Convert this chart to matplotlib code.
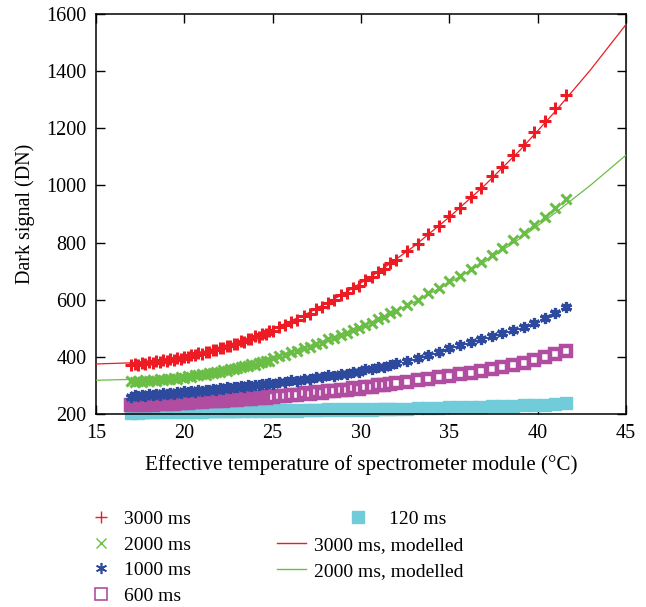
# coding:utf-8
from matplotlib import pyplot as plt
from matplotlib.lines import Line2D
import matplotlib

# 字体
matplotlib.rc("font", family="Liberation Serif", size=14.5)

# 数据
temp = [17.0, 17.2, 17.4, 17.6, 17.8, 18.0, 18.2, 18.4, 18.6, 18.8,
        19.0, 19.2, 19.4, 19.6, 19.8, 20.0, 20.2, 20.4, 20.6, 20.8,
        21.0, 21.2, 21.4, 21.6, 21.8, 22.0, 22.2, 22.4, 22.6, 22.8,
        23.0, 23.2, 23.4, 23.6, 23.8, 24.0, 24.2, 24.4, 24.6, 24.8,
        25.0, 25.35, 25.7, 26.05, 26.4, 26.75, 27.1, 27.45, 27.8, 28.15,
        28.5, 28.85, 29.2, 29.55, 29.9, 30.25, 30.6, 30.95, 31.3, 31.65,
        32.0, 32.6, 33.2, 33.8, 34.4, 35.0, 35.6, 36.2, 36.8, 37.4,
        38.0, 38.6, 39.2, 39.8, 40.4, 41.0, 41.6]
dn_3000 = [371, 376, 373, 379, 376, 382, 379, 385, 383, 389,
           386, 392, 390, 396, 394, 401, 399, 406, 405, 412,
           410, 418, 416, 424, 423, 431, 430, 438, 437, 446,
           445, 454, 453, 463, 462, 472, 471, 481, 481, 491,
           492, 503, 511, 523, 530, 544, 551, 566, 574, 589,
           598, 615, 623, 641, 649, 668, 678, 697, 707, 727,
           738, 770, 795, 829, 858, 893, 922, 960, 991, 1033,
           1066, 1108, 1143, 1188, 1226, 1272, 1318]
dn_2000 = [314, 311, 316, 313, 318, 315, 320, 317, 322, 319,
           324, 322, 327, 324, 330, 327, 333, 331, 336, 335,
           340, 338, 344, 343, 348, 346, 353, 351, 357, 356,
           362, 363, 367, 368, 374, 373, 380, 381, 386, 387,
           395, 403, 408, 417, 421, 431, 435, 445, 450, 461,
           466, 478, 483, 495, 500, 513, 519, 532, 539, 552,
           562, 583, 600, 622, 641, 664, 684, 708, 731, 756,
           780, 808, 833, 862, 889, 920, 954]
dn_1000 = [261, 265, 263, 267, 264, 269, 266, 271, 267, 272,
           269, 274, 271, 276, 273, 279, 276, 281, 278, 283,
           280, 285, 283, 288, 285, 290, 287, 293, 290, 295,
           293, 298, 295, 301, 298, 303, 301, 306, 304, 309,
           306, 313, 311, 318, 317, 323, 322, 329, 328, 335,
           334, 341, 341, 348, 348, 356, 356, 364, 364, 372,
           378, 387, 397, 407, 418, 432, 442, 452, 462, 472,
           482, 493, 505, 518, 535, 552, 573]
dn_600 = [230, 234, 231, 235, 232, 236, 233, 237, 234, 238,
          235, 240, 236, 241, 238, 243, 239, 244, 241, 245,
          242, 247, 244, 248, 245, 250, 247, 252, 248, 253,
          250, 255, 252, 257, 254, 259, 255, 260, 257, 262,
          259, 264, 263, 268, 267, 272, 271, 276, 275, 280,
          280, 285, 285, 290, 289, 295, 295, 300, 300, 306,
          308, 313, 318, 323, 328, 333, 339, 345, 351, 358,
          365, 372, 380, 389, 399, 410, 422]
dn_120 = [205, 208, 205, 208, 206, 208, 206, 209, 206, 209,
          207, 209, 207, 210, 207, 210, 208, 210, 208, 211,
          208, 211, 209, 211, 209, 212, 209, 212, 210, 212,
          210, 213, 210, 213, 211, 213, 211, 214, 211, 214,
          211, 214, 212, 214, 212, 215, 213, 215, 213, 216,
          214, 216, 214, 217, 215, 217, 215, 218, 216, 218,
          218, 219, 220, 221, 222, 223, 224, 225, 226, 227,
          228, 229, 230, 231, 233, 235, 237]

# 模型曲线
temp_model = [15, 17, 19, 21, 23, 25, 27, 29, 31, 33, 35, 37, 39, 41, 43, 45]
model_3000 = [375, 379, 393, 417, 452, 497, 553, 620, 698, 787,
              889, 1000, 1123, 1259, 1405, 1563]
model_2000 = [318, 321, 330, 346, 369, 399, 436, 481, 532, 591,
              659, 732, 814, 904, 1001, 1106]

c_red = "#ED1C24"
c_green = "#6BBE45"
c_blue = "#2E4A9E"
c_mag = "#B04DA0"
c_cyan = "#70CCD9"

fig = plt.figure(figsize=(6.46, 6.07), dpi=100)
ax = fig.add_axes([0.1486, 0.318, 0.8204, 0.659])

ax.plot(temp, dn_120, ls="none", marker="s", ms=9, color=c_cyan, clip_on=False, zorder=2)
ax.plot(temp, dn_600, ls="none", marker="s", ms=7.5, mfc="white", mec=c_mag, mew=3.2, zorder=3)
ax.plot(temp, dn_1000, ls="none", marker=(6, 2, 0), ms=8, color=c_blue, mew=2.3, zorder=4)
ax.plot(temp, dn_2000, ls="none", marker="x", ms=6.5, color=c_green, mew=2.2, zorder=5)
ax.plot(temp, dn_3000, ls="none", marker="+", ms=8, color=c_red, mew=2.2, zorder=6)
ax.plot(temp_model, model_3000, color=c_red, lw=0.9, zorder=7)
ax.plot(temp_model, model_2000, color=c_green, lw=0.9, zorder=7)

ax.set_xlim(15, 45)
ax.set_ylim(200, 1600)
ax.set_xticks(range(15, 46, 5))
ax.set_yticks(range(200, 1601, 200))
ax.tick_params(direction="in", length=6.5, width=1, top=True, right=True, pad=7)
for s in ax.spines.values():
    s.set_linewidth(1.1)
ax.set_xlabel("Effective temperature of spectrometer module (°C)", fontsize=15.2, labelpad=9)
ax.set_ylabel("Dark signal (DN)", labelpad=8)

# 图例
h1 = [Line2D([], [], ls="none", marker="+", ms=8, mew=1, color=c_red),
      Line2D([], [], ls="none", marker="x", ms=7, mew=1, color=c_green),
      Line2D([], [], ls="none", marker=(6, 2, 0), ms=8, mew=1.2, color=c_blue),
      Line2D([], [], ls="none", marker="s", ms=8, mfc="white", mec=c_mag, mew=1.2)]
leg_kw = dict(loc="upper left", frameon=False, borderpad=0, borderaxespad=0,
              fontsize=14, labelspacing=0.41)
fig.legend(h1, ["3000 ms", "2000 ms", "1000 ms", "600 ms"],
           bbox_to_anchor=(0.1418, 0.159), handlelength=1.0, handletextpad=0.67, **leg_kw)
h2 = [Line2D([], [], ls="none", marker="s", ms=8, color=c_cyan)]
fig.legend(h2, ["120 ms"], bbox_to_anchor=(0.5397, 0.159),
           handlelength=1.0, handletextpad=1.1, **leg_kw)
h3 = [Line2D([], [], color=c_red, lw=1), Line2D([], [], color=c_green, lw=1)]
fig.legend(h3, ["3000 ms, modelled", "2000 ms, modelled"],
           bbox_to_anchor=(0.4288, 0.159 - 0.0428),
           handlelength=1.49, handletextpad=0.43, **leg_kw)

plt.savefig("out.png", dpi=100)
